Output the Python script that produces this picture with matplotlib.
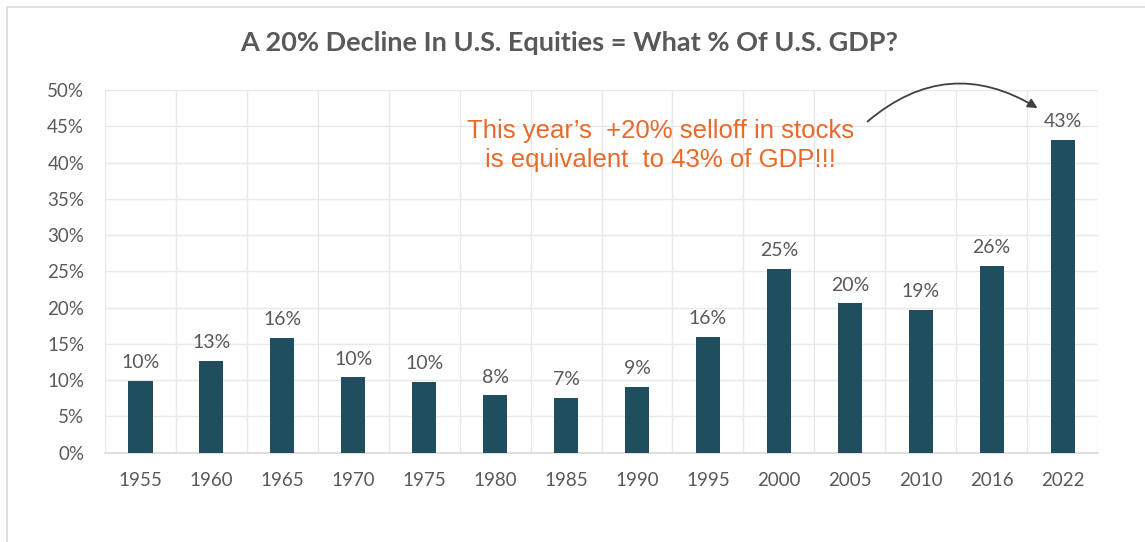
import numpy as np
import matplotlib.pyplot as plt
from matplotlib.patches import Rectangle

# === data ===
years = ["1955", "1960", "1965", "1970", "1975", "1980", "1985",
         "1990", "1995", "2000", "2005", "2010", "2016", "2022"]
pct_of_gdp = [9.9, 12.7, 15.8, 10.4, 9.8, 7.9, 7.6,
              9.1, 16.0, 25.3, 20.6, 19.7, 25.8, 43.1]
bar_labels = ["10%", "13%", "16%", "10%", "10%", "8%", "7%",
              "9%", "16%", "25%", "20%", "19%", "26%", "43%"]
y_ticks = [0, 5, 10, 15, 20, 25, 30, 35, 40, 45, 50]

title = "A 20% Decline In U.S. Equities = What % Of U.S. GDP?"
note = "This year\u2019s  +20% selloff in stocks\nis equivalent  to 43% of GDP!!!"

bar_color = "#1f4e5e"
text_gray = "#595959"
grid_gray = "#e8e8e8"
orange = "#e8692a"

plt.rcParams["font.family"] = ["Lato", "DejaVu Sans"]

fig = plt.figure(figsize=(11.45, 5.42), dpi=100)
ax = fig.add_axes([0.0917, 0.1648, 0.8673, 0.6692])

x = np.arange(len(years))
ax.bar(x, pct_of_gdp, width=0.34, color=bar_color, zorder=3)

for xi, v, lab in zip(x, pct_of_gdp, bar_labels):
    ax.annotate(lab, (xi, v), xytext=(0, 7), textcoords="offset points",
                ha="center", va="bottom", fontsize=14, color=text_gray)

ax.set_xlim(-0.5, len(years) - 0.5)
ax.set_ylim(0, 50)
ax.set_yticks(y_ticks)
ax.set_yticklabels([f"{t}%" for t in y_ticks])
ax.set_xticks(x)
ax.set_xticklabels(years)
ax.set_xticks(np.arange(-0.5, len(years)), minor=True)

ax.tick_params(axis="both", length=0, labelsize=13.5, labelcolor=text_gray)
ax.tick_params(axis="y", pad=15)
ax.tick_params(axis="x", pad=14)
ax.tick_params(axis="x", which="minor", length=0)

ax.grid(axis="y", color=grid_gray, linewidth=1, zorder=0)
ax.grid(axis="x", which="minor", color=grid_gray, linewidth=1, zorder=0)
ax.grid(axis="x", which="major", visible=False)

for side in ["left", "right", "top"]:
    ax.spines[side].set_visible(False)
ax.spines["bottom"].set_color("#d9d9d9")
ax.spines["bottom"].set_linewidth(1.2)

fig.text(0.497, 0.92, title, ha="center", va="center", fontsize=19.5,
         fontweight="bold", color=text_gray)

ax.text(7.33, 42.3, note, ha="center", va="center", fontsize=18.5,
        color=orange, family="Liberation Sans", linespacing=1.25)

ax.annotate("", xy=(12.68, 47.3), xytext=(10.22, 45.4),
            arrowprops=dict(arrowstyle="-|>", color="#404040", lw=1.3,
                            mutation_scale=14,
                            connectionstyle="arc3,rad=-0.37"),
            annotation_clip=False)

# light frame at the left and top, like the screenshot
fig.patches.append(Rectangle((7 / 1145, -0.1), 1.2, 0.1 + 535 / 542,
                             transform=fig.transFigure, fill=False,
                             edgecolor="#d9d9d9", linewidth=1.2))

fig.savefig("out.png", dpi=100, facecolor="white")
